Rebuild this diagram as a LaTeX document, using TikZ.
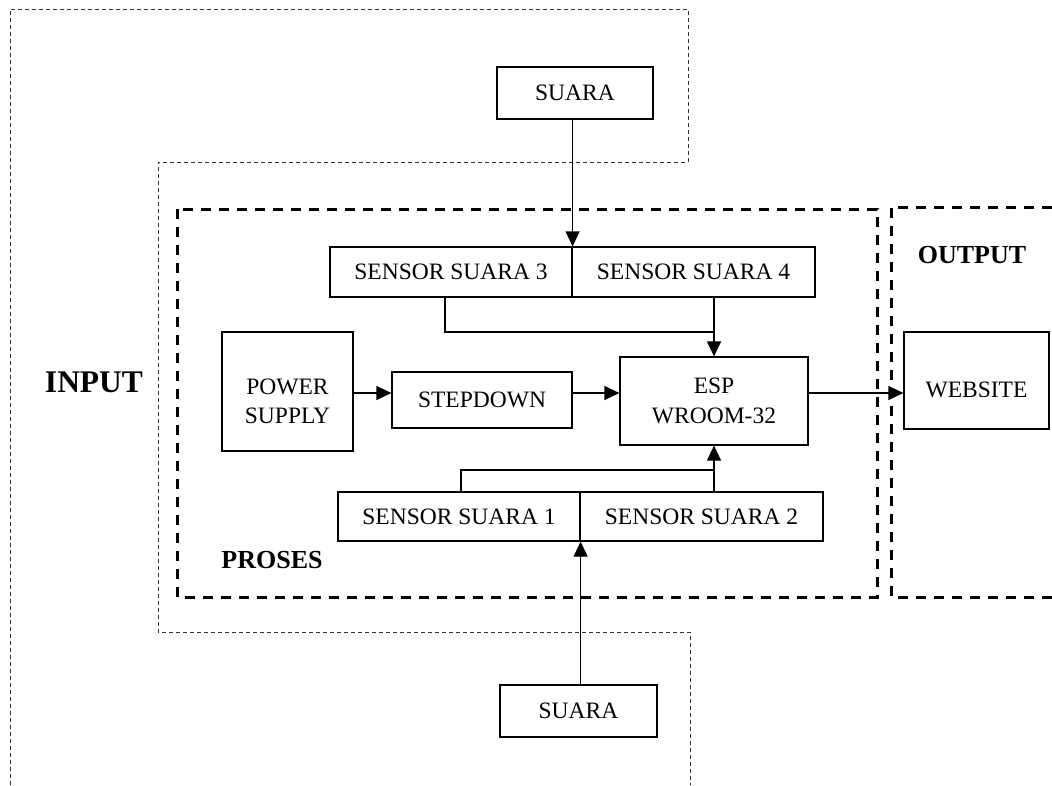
\documentclass[tikz,border=0pt]{standalone}
\usepackage{fontspec}
\setmainfont{Liberation Serif}
\usetikzlibrary{arrows.meta}

\tikzset{
	blok/.style = {draw, line width=1.2pt, inner sep=0pt, align=center,
		font=\fontsize{23.5}{29.5}\selectfont},
	isi/.style = {align=center, font=\fontsize{23.5}{29.5}\selectfont},
	panah/.style = {line width=1.2pt, -{Triangle[length=15pt,width=14pt]}},
	hubung/.style = {line width=1.2pt},
	batasproses/.style = {line width=3pt, dash pattern=on 10pt off 8pt},
	batasinput/.style = {line width=1pt, black!80, dash pattern=on 4pt off 3pt},
	judul/.style = {font=\fontsize{26}{30}\selectfont\bfseries}
}

\begin{document}
\begin{tikzpicture}[x=1pt, y=-1pt]
	\clip (0,0) rectangle (1052,785);
	\useasboundingbox (0,0) rectangle (1052,785);

	\draw[batasinput] (10,785) -- (10,9) -- (688,9) -- (688,162) -- (158,162)
		-- (158,632) -- (690,632) -- (690,785);
	\draw[batasproses] (177,209) rectangle (877,597);
	\draw[batasproses] (1070,207) -- (891,207) -- (891,597) -- (1070,597);

	\node[judul, font=\fontsize{31.5}{36}\selectfont\bfseries] (LabelInput) at (94,382) {INPUT};
	\node[judul] (LabelProses) at (272,560) {PROSES};
	\node[judul] (LabelOutput) at (972,255) {OUTPUT};

	\node[blok, minimum width=156pt, minimum height=52pt] (SuaraAtas) at (575,93) {SUARA};
	\node[blok, minimum width=242pt, minimum height=50pt] (SensorSuara3) at (451,272) {SENSOR SUARA 3};
	\node[blok, minimum width=243pt, minimum height=50pt] (SensorSuara4) at (693.5,272) {SENSOR SUARA 4};
	\node[blok, minimum width=131pt, minimum height=119pt,
		label={[isi, yshift=-10pt]center:{POWER\\SUPPLY}}] (PowerSupply) at (287.5,391.5) {};
	\node[blok, minimum width=180pt, minimum height=56pt] (Stepdown) at (482,400) {STEPDOWN};
	\node[blok, minimum width=188pt, minimum height=88pt] (Esp) at (714,401) {ESP\\WROOM-32};
	\node[blok, minimum width=145pt, minimum height=97pt,
		label={[isi, yshift=-9pt]center:WEBSITE}] (Website) at (976.5,380.5) {};
	\node[blok, minimum width=242pt, minimum height=49pt] (SensorSuara1) at (459,516.5) {SENSOR SUARA 1};
	\node[blok, minimum width=243pt, minimum height=49pt] (SensorSuara2) at (701.5,516.5) {SENSOR SUARA 2};
	\node[blok, minimum width=157pt, minimum height=52pt] (SuaraBawah) at (578.5,711) {SUARA};

	\coordinate (TitikAtas) at (714,332);
	\coordinate (TitikBawah) at (714,470);

	\draw[panah] (SensorSuara3.north east |- SuaraAtas.south) -- (SensorSuara3.north east);
	\draw[hubung] ([xshift=-6pt]SensorSuara3.south) |- (TitikAtas);
	\draw[panah] (Esp.north |- SensorSuara4.south) -- (Esp.north);
	\draw[panah] ([yshift=7pt]Stepdown.west -| PowerSupply.east) -- ([yshift=7pt]Stepdown.west);
	\draw[panah] ([yshift=7pt]Stepdown.east) -- ([yshift=7pt]Stepdown.east -| Esp.west);
	\draw[panah] ([yshift=7pt]Stepdown.east -| Esp.east) -- ([yshift=7pt]Stepdown.east -| Website.west);
	\draw[hubung] ([xshift=2pt]SensorSuara1.north) |- (TitikBawah);
	\draw[panah] (Esp.south |- SensorSuara2.north) -- (Esp.south);
	\draw[panah] (SensorSuara1.south east |- SuaraBawah.north) -- (SensorSuara1.south east);
\end{tikzpicture}
\end{document}
